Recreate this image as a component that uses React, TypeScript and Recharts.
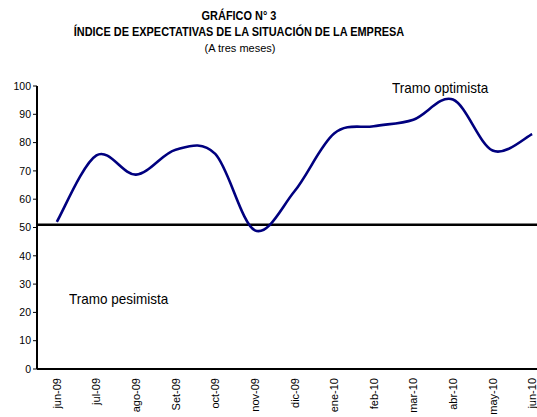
import React from 'react';
import { LineChart, Line, XAxis, YAxis, ReferenceLine } from 'recharts';

const meses = ['jun-09', 'jul-09', 'ago-09', 'Set-09', 'oct-09', 'nov-09', 'dic-09', 'ene-10', 'feb-10', 'mar-10', 'abr-10', 'may-10', 'jun-10'];
const indice = [52, 75.5, 68.7, 77.5, 76, 49, 62.8, 83.2, 85.8, 88.1, 95.2, 77.2, 83];
const umbral = 51;
const yTicks = [0, 10, 20, 30, 40, 50, 60, 70, 80, 90, 100];
const bordes = [0, 1, 2, 3, 4, 5, 6, 7, 8, 9, 10, 11, 12, 13];

const data = meses.map((mes, i) => ({ mes, indice: indice[i] }));

const sans = '"Liberation Sans", Arial, sans-serif';

// curva suavizada tipo Excel (Catmull-Rom)
const suave = (context: any) => {
  let pts: number[][] = [];
  return {
    areaStart() {},
    areaEnd() {},
    lineStart() { pts = []; },
    point(x: number, y: number) { pts.push([+x, +y]); },
    lineEnd() {
      const n = pts.length;
      if (!n) return;
      context.moveTo(pts[0][0], pts[0][1]);
      for (let i = 0; i < n - 1; i++) {
        const p0 = pts[Math.max(i - 1, 0)];
        const p1 = pts[i];
        const p2 = pts[i + 1];
        const p3 = pts[Math.min(i + 2, n - 1)];
        context.bezierCurveTo(
          p1[0] + (p2[0] - p0[0]) / 6, p1[1] + (p2[1] - p0[1]) / 6,
          p2[0] - (p3[0] - p1[0]) / 6, p2[1] - (p3[1] - p1[1]) / 6,
          p2[0], p2[1]
        );
      }
    },
  };
};

const MesTick = (props: any) => {
  const { x, y, payload } = props;
  const ty = y + 9;
  return (
    <text x={x} y={ty} transform={`rotate(-90, ${x}, ${ty})`} textAnchor="end" dominantBaseline="central"
      fontSize={11} fontFamily={sans} fill="#000">
      {payload.value}
    </text>
  );
};

export default function App() {
  return (
    <div style={{ position: 'absolute', left: 0, top: 0, width: 537, height: 417, overflow: 'hidden', background: '#fff' }}>
      <div style={{ position: 'absolute', left: 0, width: 478, top: 8, textAlign: 'center', fontFamily: sans, fontWeight: 'bold', fontSize: 12, lineHeight: '16px', color: '#000', transform: 'scaleX(0.91)', transformOrigin: '239px 0', whiteSpace: 'nowrap' }}>
        <div>GRÁFICO N° 3</div>
        <div>ÍNDICE DE EXPECTATIVAS DE LA SITUACIÓN DE LA EMPRESA</div>
      </div>
      <div style={{ position: 'absolute', left: 0, width: 480, top: 41, textAlign: 'center', fontFamily: sans, fontSize: 11, lineHeight: '14px', color: '#000' }}>
        (A tres meses)
      </div>
      <LineChart width={556} height={417} data={data} margin={{ top: 86, right: 4, bottom: 0, left: 0 }}>
        <XAxis xAxisId="bordes" type="number" domain={[0, 13]} ticks={bordes} height={0} tick={false}
          axisLine={false} tickLine={{ stroke: '#000', strokeWidth: 1 }} tickSize={4} />
        <XAxis xAxisId="cat" dataKey="mes" scale="band" height={48} interval={0} tick={<MesTick />}
          tickLine={false} tickSize={0} tickMargin={0} axisLine={{ stroke: '#000', strokeWidth: 2 }} />
        <YAxis yAxisId="y" width={37} domain={[0, 100]} ticks={yTicks} interval={0} tickSize={4}
          axisLine={{ stroke: '#000', strokeWidth: 2 }} tickLine={{ stroke: '#000', strokeWidth: 1 }}
          tick={{ fontSize: 10.5, fontFamily: sans, fill: '#000' }} />
        <ReferenceLine xAxisId="cat" yAxisId="y" y={umbral} stroke="#000" strokeWidth={2.5} />
        <Line xAxisId="cat" yAxisId="y" dataKey="indice" type={suave as any} stroke="#00007f" strokeWidth={2.6}
          dot={false} isAnimationActive={false} />
      </LineChart>
      <div style={{ position: 'absolute', left: 392, top: 79, fontFamily: sans, fontSize: 15, color: '#000', transform: 'scaleX(0.9)', transformOrigin: '0 0', whiteSpace: 'nowrap' }}>Tramo optimista</div>
      <div style={{ position: 'absolute', left: 69, top: 290, fontFamily: sans, fontSize: 15, color: '#000', transform: 'scaleX(0.9)', transformOrigin: '0 0', whiteSpace: 'nowrap' }}>Tramo pesimista</div>
    </div>
  );
}
